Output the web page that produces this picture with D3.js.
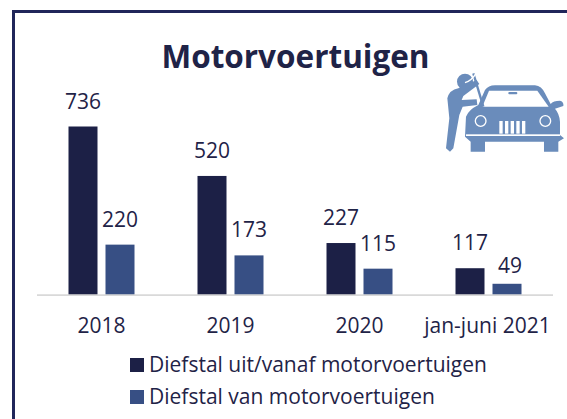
<!DOCTYPE html>
<html><head><meta charset="utf-8">
<script src="https://cdn.jsdelivr.net/npm/d3@7/dist/d3.min.js"></script>
<style>html,body{margin:0;padding:0;background:#fff;overflow:hidden}svg{display:block}
text{font-family:"Open Sans","Noto Sans",sans-serif}</style></head><body>
<svg id="c" width="567" height="419"></svg>
<script>
const categories=["2018","2019","2020","jan-juni 2021"];
const seriesNames=["Diefstal uit/vanaf motorvoertuigen","Diefstal van motorvoertuigen"];
const uitVanaf=[736,520,227,117];
const vanMotor=[220,173,115,49];
const colors=["#1c2046","#374f84"];
const ink="#1f2347";
const svg=d3.select("#c");
svg.append("path").attr("d","M13.5,419V11.5H567").attr("fill","none").attr("stroke","#20265a").attr("stroke-width",3);
svg.append("text").attr("x",295.5).attr("y",68).attr("text-anchor","middle").attr("font-size",31.5).attr("font-weight",700).attr("fill",ink).text("Motorvoertuigen");
const x=d3.scaleBand().domain(categories).range([37,553]);
const y=d3.scaleLinear().domain([0,736]).range([295,126.5]);
const g=svg.append("g");
[uitVanaf,vanMotor].forEach((vals,s)=>{
  const dx=s===0?31.5:68.5;
  g.selectAll(null).data(vals).enter().append("rect")
    .attr("x",(d,i)=>x(categories[i])+dx).attr("y",d=>y(d)).attr("width",29).attr("height",d=>y(0)-y(d)).attr("fill",colors[s]);
  g.selectAll(null).data(vals).enter().append("text")
    .attr("x",(d,i)=>x(categories[i])+dx+14.5+(d<50?3:0)).attr("y",d=>y(d)-(d<50?11:18)).attr("text-anchor","middle").attr("font-size",21).attr("fill",ink).text(d=>d);
});
svg.append("line").attr("x1",37).attr("x2",553).attr("y1",295.2).attr("y2",295.2).attr("stroke","#d9d9d9").attr("stroke-width",1.8);
svg.selectAll(null).data(categories).enter().append("text").attr("x",d=>x(d)+x.bandwidth()/2+(d.length>4?-1:0)).attr("y",333).attr("text-anchor","middle").attr("font-size",21).attr("fill",ink).text(d=>d);
seriesNames.forEach((n,i)=>{
  svg.append("rect").attr("x",130).attr("y",358+i*32).attr("width",14).attr("height",14).attr("fill",colors[i]);
  svg.append("text").attr("x",149).attr("y",372+i*32).attr("font-size",21).attr("fill",ink).text(n);
});
// icon, drawn in the 3x crop's coordinates
const iconColor="#6a8cbb";
const ic=svg.append("g").attr("transform","translate(420,60) scale(0.3333)").attr("fill",iconColor);
ic.append("path").attr("d","M175,135 L195,90 Q205,76 225,76 L345,76 Q365,78 375,100 L392,132 Q400,122 420,122 Q432,125 430,138 L405,146 Q418,160 420,185 L420,225 L432,235 L415,245 L415,275 L372,275 L372,245 L195,245 L195,275 L152,275 L152,245 L135,230 L138,170 Q145,150 175,135Z");
ic.append("path").attr("fill","#fff").attr("d","M187,140 L207,92 L352,92 L386,140Z");
ic.append("rect").attr("x",138).attr("y",223).attr("width",282).attr("height",5).attr("fill","#fff");
ic.append("rect").attr("x",265).attr("y",96).attr("width",27).attr("height",7).attr("rx",3);
ic.selectAll(null).data([182,376]).enter().append("circle").attr("cx",d=>d).attr("cy",183).attr("r",16).attr("fill","none").attr("stroke","#fff").attr("stroke-width",4);
ic.selectAll(null).data([238,255,272,289,306]).enter().append("rect").attr("x",d=>d).attr("y",183).attr("width",10).attr("height",38).attr("fill","#fff");
ic.append("circle").attr("cx",135).attr("cy",65).attr("r",24);
ic.append("path").attr("d","M82,115 Q88,90 115,85 L170,60 L178,72 L130,108 L125,120 L170,118 L172,135 L128,140 L118,165 L100,265 L90,275 L78,265 L88,175 Z");
ic.append("path").attr("d","M160,40 L190,140").attr("stroke",iconColor).attr("stroke-width",7).attr("fill","none");
ic.append("path").attr("d","M135,68 Q155,62 168,40").attr("stroke","#fff").attr("stroke-width",4).attr("fill","none");
</script></body></html>
